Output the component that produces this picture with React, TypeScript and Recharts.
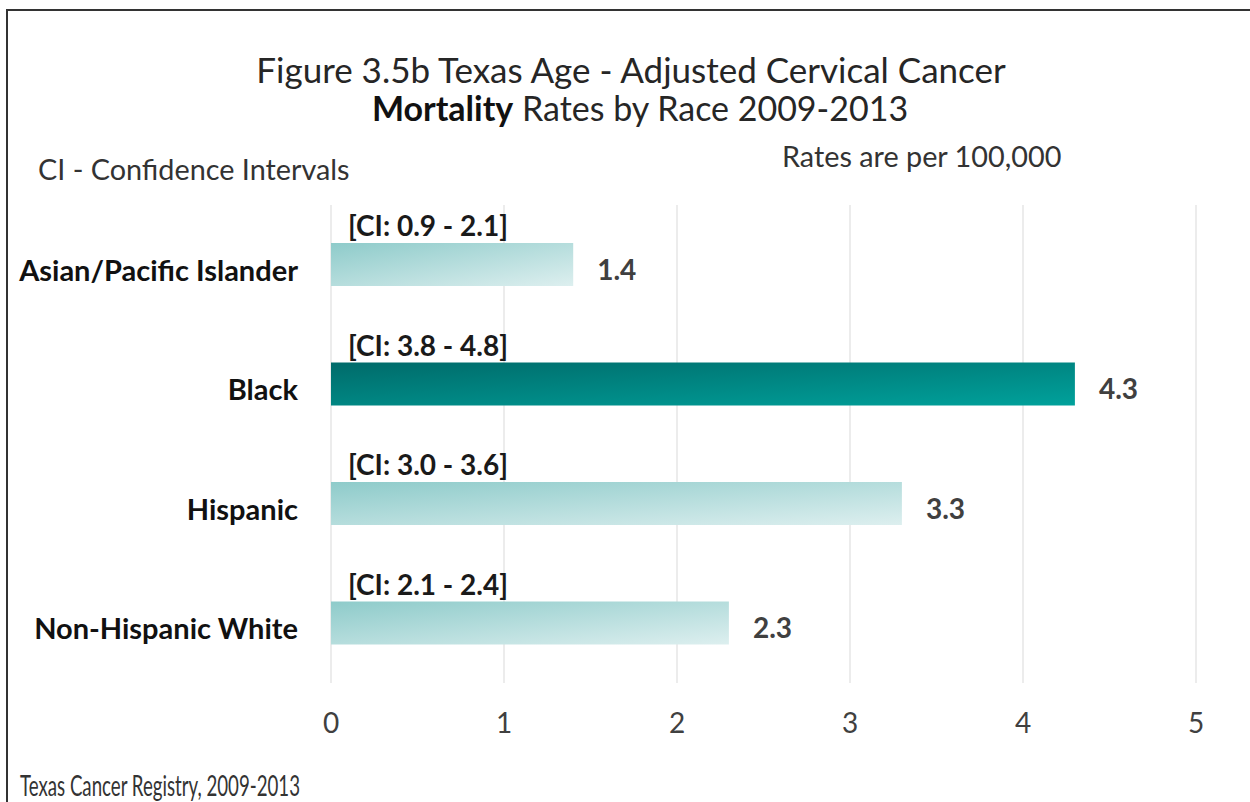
import { BarChart, Bar, XAxis, YAxis, CartesianGrid, Cell, LabelList } from 'recharts';

const categories = ['Asian/Pacific Islander', 'Black', 'Hispanic', 'Non-Hispanic White'];
const rates = [1.4, 4.3, 3.3, 2.3];
const ciLow = [0.9, 3.8, 3.0, 2.1];
const ciHigh = [2.1, 4.8, 3.6, 2.4];
const xTicks = [0, 1, 2, 3, 4, 5];
const highlighted = 'Black';

const data = categories.map((race, i) => ({
  race,
  rate: rates[i],
  ci: `[CI: ${ciLow[i].toFixed(1)} - ${ciHigh[i].toFixed(1)}]`,
}));

const FONT = 'Lato, "Open Sans", sans-serif';
const W = 1250;
const H = 802;

const RaceTick = (props: any) => {
  const { x, y, payload } = props;
  return (
    <text x={x} y={y + 16} textAnchor="end" fontFamily={FONT} fontWeight={700} fontSize={29} fill="#111">
      {payload.value}
    </text>
  );
};

const RateTick = (props: any) => {
  const { x, y, payload } = props;
  return (
    <text x={x} y={y + 42} textAnchor="middle" fontFamily={FONT} fontSize={28} fill="#404040">
      {payload.value}
    </text>
  );
};

const ValueLabel = (props: any) => {
  const { x, y, width, height, value } = props;
  return (
    <text x={x + width + 24} y={y + height / 2 + 15} fontFamily={FONT} fontWeight={700} fontSize={28} fill="#404040">
      {value}
    </text>
  );
};

const CiLabel = (props: any) => {
  const { x, y, value } = props;
  return (
    <text x={x + 17} y={y - 7} fontFamily={FONT} fontWeight={700} fontSize={28} fill="#1a1a1a">
      {value}
    </text>
  );
};

export default function App() {
  return (
    <div style={{ position: 'fixed', left: 0, top: 0, width: W, height: H, overflow: 'hidden', background: '#fff' }}>
      <svg width={0} height={0} style={{ position: 'absolute' }}>
        <defs>
          <linearGradient id="barDark" x1="0" y1="0" x2="1" y2="1">
            <stop offset="0%" stopColor="#006b6a" />
            <stop offset="100%" stopColor="#00a19b" />
          </linearGradient>
          <linearGradient id="barLight" x1="0" y1="0" x2="1" y2="1">
            <stop offset="0%" stopColor="#8ecbca" />
            <stop offset="100%" stopColor="#ddefef" />
          </linearGradient>
        </defs>
      </svg>

      <BarChart
        width={W}
        height={H}
        data={data}
        layout="vertical"
        margin={{ top: 205, right: 54, bottom: 59, left: 11 }}
        style={{ position: 'absolute', left: 0, top: 0 }}
      >
        <CartesianGrid horizontal={false} stroke="#d9d9d9" />
        <XAxis
          type="number"
          domain={[0, 5]}
          ticks={xTicks}
          axisLine={false}
          tickLine={false}
          height={60}
          tick={<RateTick />}
        />
        <YAxis
          type="category"
          dataKey="race"
          width={320}
          axisLine={false}
          tickLine={false}
          tickMargin={27}
          tick={<RaceTick />}
        />
        <Bar dataKey="rate" barSize={43} isAnimationActive={false}>
          {data.map((d) => (
            <Cell key={d.race} fill={d.race === highlighted ? 'url(#barDark)' : 'url(#barLight)'} />
          ))}
          <LabelList dataKey="rate" content={<ValueLabel />} />
          <LabelList dataKey="ci" content={<CiLabel />} />
        </Bar>
      </BarChart>

      {/* frame (open to the right and bottom), titles and notes */}
      <svg width={W} height={H} style={{ position: 'absolute', left: 0, top: 0, pointerEvents: 'none' }}>
        <line x1={7} y1={9} x2={7} y2={H} stroke="#333" strokeWidth={2} />
        <line x1={6} y1={10} x2={W} y2={10} stroke="#333" strokeWidth={2} />
        <text x={631} y={83} textAnchor="middle" fontFamily={FONT} fontSize={35} fill="#262626">
          Figure 3.5b Texas Age - Adjusted Cervical Cancer
        </text>
        <text x={640} y={121} textAnchor="middle" fontFamily={FONT} fontSize={34} fill="#262626">
          <tspan fontWeight={700} fill="#111">Mortality</tspan> Rates by Race 2009-2013
        </text>
        <text x={38} y={180} fontFamily={FONT} fontSize={28.8} fill="#333">
          CI - Confidence Intervals
        </text>
        <text x={782} y={167} fontFamily={FONT} fontSize={28.8} fill="#333">
          Rates are per 100,000
        </text>
        <text x={20} y={796} fontFamily={FONT} fontSize={28} fill="#333" textLength={280} lengthAdjust="spacingAndGlyphs">
          Texas Cancer Registry, 2009-2013
        </text>
      </svg>
    </div>
  );
}
